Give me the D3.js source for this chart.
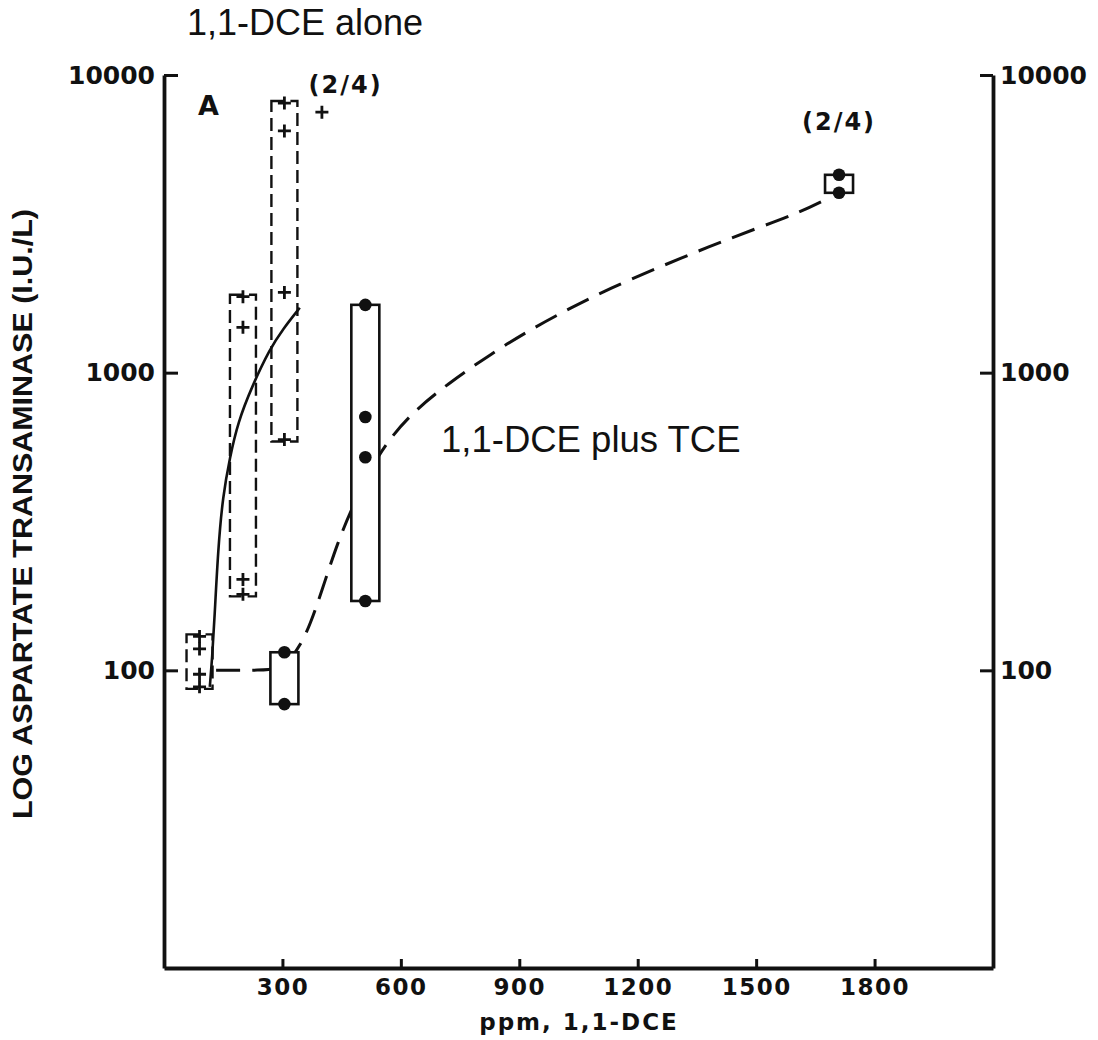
<!DOCTYPE html>
<html><head>
<meta charset="utf-8">
<script src="https://d3js.org/d3.v7.min.js"></script>
<style>
  body { margin: 0; background: #fff; }
  svg { display: block; }
  .axis path, .axis line { stroke: #111; }
  .axis text { font-family: "DejaVu Sans", sans-serif; font-weight: bold; fill: #111; }
  .note { font-family: "Liberation Sans", Arial, sans-serif; fill: #111; }
  .bold { font-family: "DejaVu Sans", sans-serif; font-weight: bold; fill: #111; }
</style>
</head>
<body>
<svg id="chart" width="1098" height="1040"></svg>
<script>

// ---- data ----
// 1,1-DCE alone (pluses, dashed boxes)
const aloneDose = [90, 200, 305];
const aloneValues = [
  [130, 118, 97, 88],
  [1800, 1420, 202, 180],
  [8050, 6490, 1860, 596]
];
// plus plotted outside the box at 400 ppm (2/4)
const aloneExtraDose = [400];
const aloneExtraValue = [7500];

// 1,1-DCE plus TCE (dots, solid boxes)
const tceDose = [305, 510, 1710];
const tceValues = [
  [115, 77],
  [1690, 710, 520, 171],
  [4620, 4020]
];

// hand drawn trend curves
const aloneCurveX = [116, 122, 128, 137, 149, 167, 187, 223, 268, 301, 344];
const aloneCurveY = [88, 110, 150, 255, 385, 520, 680, 900, 1200, 1400, 1652];
const tceCurveX = [132, 250, 285, 320, 360, 400, 440, 480, 540, 620, 720, 830, 930, 1030, 1130, 1250, 1380, 1500, 1610, 1690];
const tceCurveY = [100, 100, 101, 108, 130, 185, 270, 360, 530, 720, 920, 1160, 1400, 1650, 1920, 2250, 2650, 3050, 3450, 3900];

const xTicks = [300, 600, 900, 1200, 1500, 1800];
const yTicks = [100, 1000, 10000];
const fractionLabels = [{dose: 460, text: "(2/4)", y: 93}, {dose: 1710, text: "(2/4)", y: 130}];

// ---- scales ----
const svg = d3.select("#chart");
const x = d3.scaleLinear().domain([0, 2100]).range([164, 993]);
const y = d3.scaleLog().domain([10, 10000]).range([968, 75]);

// ---- axes ----
const left = svg.append("g").attr("class", "axis")
  .attr("transform", "translate(164,0)")
  .call(d3.axisLeft(y).tickValues(yTicks).tickFormat(d3.format("d"))
    .tickSizeInner(-14).tickSizeOuter(0).tickPadding(9));

const right = svg.append("g").attr("class", "axis")
  .attr("transform", "translate(993,0)")
  .call(d3.axisRight(y).tickValues(yTicks).tickFormat(d3.format("d"))
    .tickSizeInner(-13).tickSizeOuter(0).tickPadding(7));

const bottom = svg.append("g").attr("class", "axis")
  .attr("transform", "translate(0,968)")
  .call(d3.axisBottom(x).tickValues(xTicks).tickFormat(d3.format("d"))
    .tickSizeInner(-9).tickSizeOuter(0).tickPadding(11));

svg.selectAll(".axis .domain").attr("stroke-width", 3.8);
svg.selectAll(".axis .tick line").attr("stroke-width", 3);
left.selectAll("text").style("font-size", "25px");
right.selectAll("text").style("font-size", "25px");
bottom.selectAll("text").style("font-size", "23px").style("letter-spacing", "1.5px");

// axis titles
svg.append("text").attr("class", "bold")
  .attr("x", 579).attr("y", 1030)
  .attr("text-anchor", "middle")
  .style("font-size", "23px").style("letter-spacing", "2px")
  .text("ppm, 1,1-DCE");

svg.append("text")
  .attr("transform", "translate(32,514) rotate(-90)")
  .attr("text-anchor", "middle")
  .attr("textLength", 610).attr("lengthAdjust", "spacingAndGlyphs")
  .style("font-family", "Liberation Sans, Arial, sans-serif")
  .style("font-weight", "bold").style("font-size", "27px").style("fill", "#111")
  .text("LOG ASPARTATE TRANSAMINASE (I.U./L)");

// panel letter and fractions
svg.append("text").attr("class", "bold")
  .attr("x", 198).attr("y", 115).style("font-size", "27px").text("A");

svg.selectAll(".frac").data(fractionLabels).enter()
  .append("text").attr("class", "bold frac")
  .attr("x", d => x(d.dose)).attr("y", d => d.y)
  .attr("text-anchor", "middle")
  .style("font-size", "24px").style("letter-spacing", "2px")
  .text(d => d.text);

// ---- 1,1-DCE alone: dashed boxes + pluses ----
const boxHalf = 13;
svg.selectAll(".aloneBox").data(aloneDose).enter()
  .append("rect").attr("class", "aloneBox")
  .attr("x", d => x(d) - boxHalf)
  .attr("width", boxHalf * 2)
  .attr("y", (d, i) => y(d3.max(aloneValues[i])) - 2)
  .attr("height", (d, i) => y(d3.min(aloneValues[i])) - y(d3.max(aloneValues[i])) + 4)
  .attr("fill", "none").attr("stroke", "#111")
  .attr("stroke-width", 2.4).attr("stroke-dasharray", "13,6");

const plusPts = [];
aloneDose.forEach((d, i) => aloneValues[i].forEach(v => plusPts.push([d, v])));
aloneExtraDose.forEach((d, i) => plusPts.push([d, aloneExtraValue[i]]));

svg.selectAll(".plus").data(plusPts).enter()
  .append("path").attr("class", "plus")
  .attr("transform", d => `translate(${x(d[0])},${y(d[1])})`)
  .attr("d", "M-6.5,0H6.5M0,-6.5V6.5")
  .attr("stroke", "#111").attr("stroke-width", 2.8);

// ---- trend curves ----
const line = d3.line().x(d => x(d[0])).y(d => y(d[1])).curve(d3.curveBasis);

svg.append("path")
  .datum(aloneCurveX.map((d, i) => [d, aloneCurveY[i]]))
  .attr("d", line)
  .attr("fill", "none").attr("stroke", "#111").attr("stroke-width", 2.6);

svg.append("path")
  .datum(tceCurveX.map((d, i) => [d, tceCurveY[i]]))
  .attr("d", line)
  .attr("fill", "none").attr("stroke", "#111").attr("stroke-width", 3)
  .attr("stroke-dasharray", "24,12");

// ---- 1,1-DCE plus TCE: solid boxes + dots ----
svg.selectAll(".tceBox").data(tceDose).enter()
  .append("rect").attr("class", "tceBox")
  .attr("x", d => x(d) - boxHalf - 1)
  .attr("width", boxHalf * 2 + 2)
  .attr("y", (d, i) => y(d3.max(tceValues[i])))
  .attr("height", (d, i) => y(d3.min(tceValues[i])) - y(d3.max(tceValues[i])))
  .attr("fill", "#fff").attr("stroke", "#111").attr("stroke-width", 2.6);

const dotPts = [];
tceDose.forEach((d, i) => tceValues[i].forEach(v => dotPts.push([d, v])));

svg.selectAll(".dot").data(dotPts).enter()
  .append("circle").attr("class", "dot")
  .attr("cx", d => x(d[0])).attr("cy", d => y(d[1]))
  .attr("r", 6.3).attr("fill", "#111");

// ---- series annotations ----
svg.append("text").attr("class", "note")
  .attr("x", 187).attr("y", 35).style("font-size", "36px")
  .text("1,1-DCE alone");

svg.append("text").attr("class", "note")
  .attr("x", 441).attr("y", 452).style("font-size", "36.5px")
  .text("1,1-DCE plus TCE");

</script>
</body>
</html>
